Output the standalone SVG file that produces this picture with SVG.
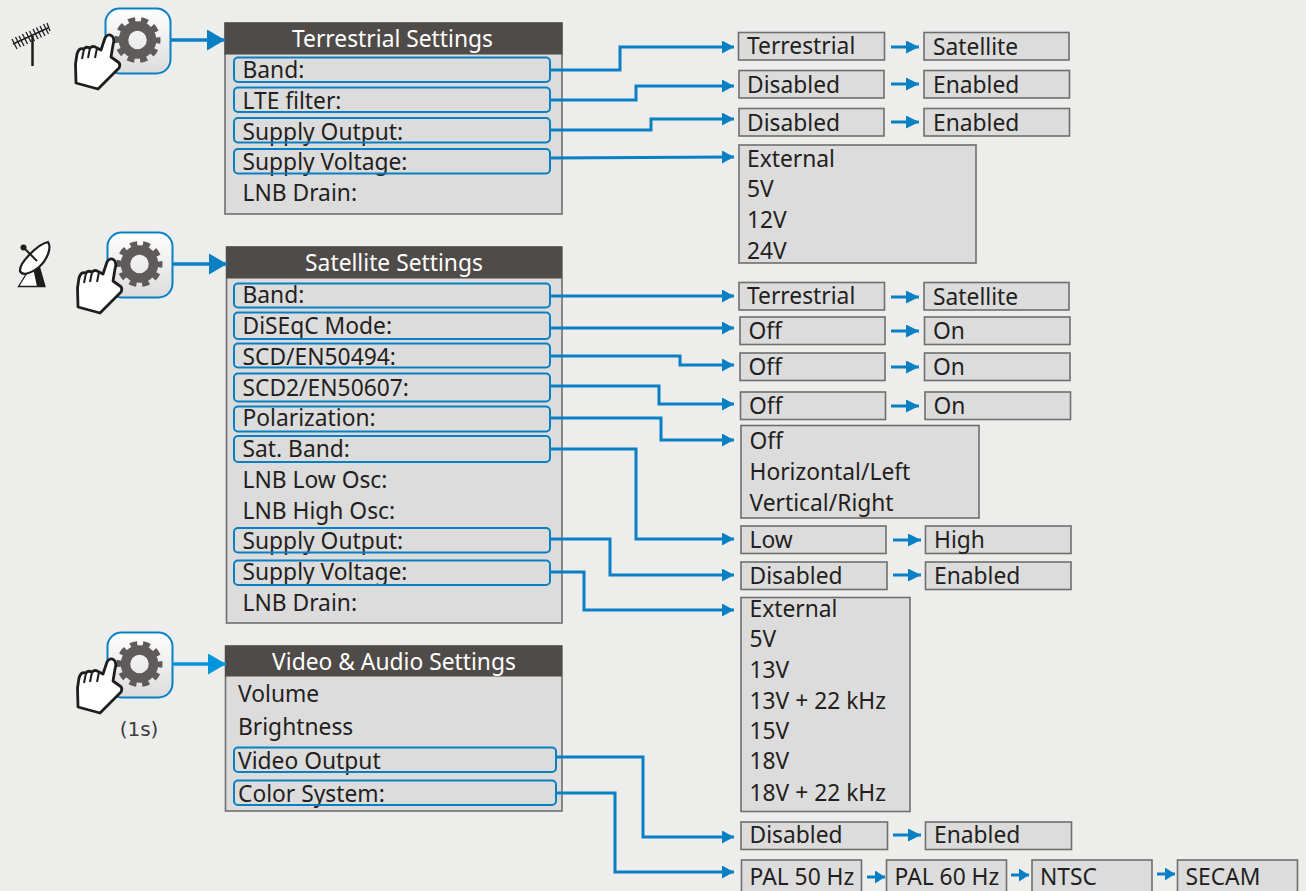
<svg xmlns="http://www.w3.org/2000/svg" width="1306" height="891" viewBox="0 0 1306 891">
<style>
text{font-family:"Noto Sans","Open Sans",sans-serif;font-size:22.8px;fill:#231f20}
.h{fill:#fff;text-anchor:middle}
.s{font-family:"DejaVu Sans",sans-serif;font-size:20px;fill:#3c3c3c;text-anchor:middle}
.panel{fill:#dcdcdc;stroke:#6f6f6d;stroke-width:1.6}
.head{fill:#4f4b48}
.row{fill:none;stroke:#0a80c4;stroke-width:2}
.opt{fill:#dcdcdc;stroke:#6f6f6d;stroke-width:1.6}
.c{fill:none;stroke:#0a80c4;stroke-width:3;marker-end:url(#a)}
.m{fill:none;stroke:#0a80c4;stroke-width:3.5;marker-end:url(#b)}
.n{fill:none;stroke:#0a80c4;stroke-width:3;marker-end:url(#n)}
.p{fill:none;stroke:#0a80c4;stroke-width:3;marker-end:url(#p)}
</style>
<defs>
<marker id="a" markerUnits="userSpaceOnUse" markerWidth="13" markerHeight="14" refX="12" refY="6.500" orient="auto"><path d="M0 0L12 6.500L0 13Z" fill="#0a80c4"/></marker>
<marker id="b" markerUnits="userSpaceOnUse" markerWidth="19" markerHeight="22" refX="18" refY="10.500" orient="auto"><path d="M0 0L18 10.500L0 21Z" fill="#0a80c4"/></marker>
<marker id="b3" markerUnits="userSpaceOnUse" markerWidth="19" markerHeight="22" refX="18" refY="10.500" orient="auto"><path d="M0 0L18 10.500L0 21Z" fill="#0096dc"/></marker>
<marker id="n" markerUnits="userSpaceOnUse" markerWidth="14" markerHeight="14" refX="13" refY="6.500" orient="auto"><path d="M0 0L13 6.500L0 13Z" fill="#0a80c4"/></marker>
<marker id="p" markerUnits="userSpaceOnUse" markerWidth="11" markerHeight="14" refX="10" refY="6.500" orient="auto"><path d="M0 0L10 6.500L0 13Z" fill="#0a80c4"/></marker>
<linearGradient id="g" x1="0" y1="0" x2="0" y2="1"><stop offset="0" stop-color="#ffffff"/><stop offset="1" stop-color="#dcdcdc"/></linearGradient>
<g id="btn">
<rect x="105.500" y="8.500" width="65" height="65" rx="14" fill="url(#g)" stroke="#0a80c4" stroke-width="2"/>
<circle cx="137.500" cy="40" r="14" fill="none" stroke="#5f5b5a" stroke-width="9.500"/>
<circle cx="137.500" cy="40" r="20.500" fill="none" stroke="#5f5b5a" stroke-width="5" stroke-dasharray="7 5.880" stroke-dashoffset="3.500"/>
<path d="M76 83L75.500 64L77 54Q79 47 84 49Q86 46 90 48Q93 45 97 48L101 50L105 38Q108 33 112 36Q115 39 113 45L111 57L118 62Q121 64 119 68L106 81L98 89Z" fill="#fff" stroke="#1f1c1c" stroke-width="2.800" stroke-linejoin="round"/>
<path d="M84 49L82 59M90 48L88 58M97 48L95 58" fill="none" stroke="#1f1c1c" stroke-width="2"/>
</g>
</defs>
<rect width="1306" height="891" fill="#ededec"/>
<g id="antenna-icon" stroke="#1f1c1c" fill="none">
<path d="M32.500 36V66" stroke-width="2.500"/>
<path d="M13 44L48 28" stroke-width="1.500"/>
<path d="M12 39L17 49M15.500 37L20.500 47M19 36L24 46M22.500 34L27.500 44M26 32L31 42M29.500 31L34.500 41M33 29L38 39M36.500 27.500L41.500 37.500M40 26L45 36M43.500 24L48.500 34M47 23L50 31" stroke-width="1.300"/>
</g>
<g id="dish-icon">
<path d="M30 268L18.500 286.500H45L38 262Z" fill="#fff" stroke="#1f1c1c" stroke-width="1.300"/>
<path d="M33 268L37 286.500H45L38 261Z" fill="#1f1c1c"/>
<path d="M48 242C52 248 47 260 39 267C30 274 22 276 20 271C19 263 38 244 48 242Z" fill="#fff" stroke="#1f1c1c" stroke-width="2.200"/>
<path d="M24 248L37 261" stroke="#1f1c1c" stroke-width="2"/>
<circle cx="23.500" cy="247.500" r="3" fill="#1f1c1c"/>
</g>
<g id="btn-terrestrial"><use href="#btn"/></g>
<g id="btn-satellite"><use href="#btn" x="2" y="224"/></g>
<g id="btn-video"><use href="#btn" x="2" y="624"/><text class="s" x="139" y="736">(1s)</text></g>
<g id="terrestrial-panel">
<rect class="panel" x="225" y="23" width="337" height="191"/>
<rect class="head" x="224.500" y="22.500" width="338" height="32"/>
<text class="h" x="392.500" y="47">Terrestrial Settings</text>
<text x="242.500" y="78">Band:</text>
<text x="242.500" y="108.500">LTE filter:</text>
<text x="242.500" y="139.500">Supply Output:</text>
<text x="242.500" y="170">Supply Voltage:</text>
<text x="242.500" y="201">LNB Drain:</text>
<rect class="row" x="234" y="57.500" width="316" height="24.500" rx="4"/>
<rect class="row" x="234" y="87.500" width="316" height="24.500" rx="4"/>
<rect class="row" x="234" y="118" width="316" height="24.500" rx="4"/>
<rect class="row" x="234" y="149" width="316" height="24.500" rx="4"/>
</g>
<g id="satellite-panel">
<rect class="panel" x="226.500" y="247" width="335.500" height="376"/>
<rect class="head" x="226" y="246.500" width="336" height="32"/>
<text class="h" x="394" y="271">Satellite Settings</text>
<text x="242.500" y="303">Band:</text>
<text x="242.500" y="333.500">DiSEqC Mode:</text>
<text x="242.500" y="364.500">SCD/EN50494:</text>
<text x="242.500" y="395.500">SCD2/EN50607:</text>
<text x="242.500" y="426">Polarization:</text>
<text x="242.500" y="457">Sat. Band:</text>
<text x="242.500" y="488">LNB Low Osc:</text>
<text x="242.500" y="519">LNB High Osc:</text>
<text x="242.500" y="549">Supply Output:</text>
<text x="242.500" y="580">Supply Voltage:</text>
<text x="242.500" y="611">LNB Drain:</text>
<rect class="row" x="234" y="283.500" width="316" height="24" rx="4"/>
<rect class="row" x="234" y="312.500" width="316" height="26.500" rx="4"/>
<rect class="row" x="234" y="343.500" width="316" height="24" rx="4"/>
<rect class="row" x="234" y="373.500" width="316" height="28" rx="4"/>
<rect class="row" x="234" y="406.500" width="316" height="25" rx="4"/>
<rect class="row" x="234" y="436" width="316" height="26" rx="4"/>
<rect class="row" x="234" y="528" width="316" height="24.500" rx="4"/>
<rect class="row" x="234" y="560.500" width="316" height="24.500" rx="4"/>
</g>
<g id="video-panel">
<rect class="panel" x="225.500" y="646" width="336.500" height="165"/>
<rect class="head" x="225" y="645.500" width="337" height="31"/>
<text class="h" x="394" y="670">Video &amp; Audio Settings</text>
<text x="238" y="702">Volume</text>
<text x="238" y="735">Brightness</text>
<text x="238" y="768.500">Video Output</text>
<text x="238" y="802">Color System:</text>
<rect class="row" x="234" y="747.500" width="322" height="24.500" rx="4"/>
<rect class="row" x="234" y="780.500" width="322" height="24.500" rx="4"/>
</g>
<g id="t-band-opts"><rect class="opt" x="738.500" y="32.500" width="146" height="27.500"/><text x="747" y="54">Terrestrial</text><rect class="opt" x="924" y="32.500" width="145" height="27.500"/><text x="933" y="54.500">Satellite</text></g>
<g id="t-lte-opts"><rect class="opt" x="739" y="70.500" width="145" height="27.500"/><text x="747" y="93">Disabled</text><rect class="opt" x="924" y="70.500" width="145.500" height="27.500"/><text x="933" y="93">Enabled</text></g>
<g id="t-supply-opts"><rect class="opt" x="739" y="108.500" width="145" height="27.500"/><text x="747" y="130.500">Disabled</text><rect class="opt" x="924" y="108.500" width="145.500" height="27.500"/><text x="933" y="130.500">Enabled</text></g>
<g id="t-voltage-opts"><rect class="opt" x="739" y="145" width="237" height="118"/><text x="747" y="167">External</text><text x="747" y="197">5V</text><text x="747" y="228">12V</text><text x="747" y="259">24V</text></g>
<g id="s-band-opts"><rect class="opt" x="739" y="282.500" width="145.500" height="27.500"/><text x="747" y="304">Terrestrial</text><rect class="opt" x="924" y="282.500" width="145" height="27.500"/><text x="933" y="304.500">Satellite</text></g>
<g id="s-diseqc-opts"><rect class="opt" x="740" y="317" width="145" height="27.500"/><text x="748.500" y="339">Off</text><rect class="opt" x="924.500" y="317" width="145.500" height="27.500"/><text x="933" y="339">On</text></g>
<g id="s-scd-opts"><rect class="opt" x="740" y="353" width="145" height="27.500"/><text x="748.500" y="375">Off</text><rect class="opt" x="924.500" y="353" width="145.500" height="27.500"/><text x="933" y="375">On</text></g>
<g id="s-scd2-opts"><rect class="opt" x="740.500" y="392" width="145" height="27.500"/><text x="749" y="414">Off</text><rect class="opt" x="925" y="392" width="145.500" height="27.500"/><text x="933.500" y="414">On</text></g>
<g id="s-pol-opts"><rect class="opt" x="741" y="425.500" width="238" height="92.500"/><text x="749.500" y="449">Off</text><text x="749.500" y="480">Horizontal/Left</text><text x="749.500" y="511">Vertical/Right</text></g>
<g id="s-satband-opts"><rect class="opt" x="741" y="526" width="145" height="27.500"/><text x="749.500" y="548">Low</text><rect class="opt" x="925.500" y="526" width="145.500" height="27.500"/><text x="934" y="548">High</text></g>
<g id="s-supply-opts"><rect class="opt" x="741" y="562" width="146" height="27.500"/><text x="749.500" y="583.500">Disabled</text><rect class="opt" x="925.500" y="562" width="145.500" height="27.500"/><text x="934" y="583.500">Enabled</text></g>
<g id="s-voltage-opts"><rect class="opt" x="741" y="597.500" width="169" height="214"/><text x="749.500" y="617">External</text><text x="749.500" y="647">5V</text><text x="749.500" y="678">13V</text><text x="749.500" y="709">13V + 22 kHz</text><text x="749.500" y="739">15V</text><text x="749.500" y="769">18V</text><text x="749.500" y="801">18V + 22 kHz</text></g>
<g id="v-output-opts"><rect class="opt" x="741" y="822" width="146.500" height="27.500"/><text x="749.500" y="843">Disabled</text><rect class="opt" x="925.500" y="822" width="146" height="27.500"/><text x="934" y="843">Enabled</text></g>
<g id="v-color-opts"><rect class="opt" x="741.500" y="860" width="120" height="36"/><text x="749.500" y="885">PAL 50 Hz</text><rect class="opt" x="886.500" y="860" width="120" height="36"/><text x="894.500" y="885">PAL 60 Hz</text><rect class="opt" x="1032" y="860" width="120" height="36"/><text x="1040" y="885">NTSC</text><rect class="opt" x="1177.500" y="860" width="120" height="36"/><text x="1185.500" y="885">SECAM</text></g>
<g id="connectors">
<path class="m" d="M171 40H225"/>
<path class="m" d="M173 264H227"/>
<path class="m" style="stroke:#0096dc;marker-end:url(#b3)" d="M172 664H226"/>
<path class="c" d="M550 70H620V47H734"/>
<path class="c" d="M550 100H636V86H734"/>
<path class="c" d="M550 130H651V119H734"/>
<path class="c" d="M550 158L734 157"/>
<path class="c" d="M550 296H734"/>
<path class="c" d="M550 328H734"/>
<path class="c" d="M550 356H680V365H734"/>
<path class="c" d="M550 386H659V404H734"/>
<path class="c" d="M550 418H661V440H734"/>
<path class="c" d="M550 449H636V539H734"/>
<path class="c" d="M550 539H610V575H734"/>
<path class="c" d="M550 572H584V610H734"/>
<path class="c" d="M556 757H643V837H734"/>
<path class="c" d="M556 793H615V872H734"/>
<path class="n" d="M891 47H919"/>
<path class="n" d="M891 84H919"/>
<path class="n" d="M891 122H919"/>
<path class="n" d="M891 297H919"/>
<path class="n" d="M891 331H919"/>
<path class="n" d="M891 367H919"/>
<path class="n" d="M891 406H919"/>
<path class="n" d="M893 540H921"/>
<path class="n" d="M893 575H921"/>
<path class="n" d="M893 835H921"/>
<path class="p" d="M867 877H885"/>
<path class="p" d="M1011 875H1029"/>
<path class="p" d="M1157 874H1175"/>
</g>
</svg>
